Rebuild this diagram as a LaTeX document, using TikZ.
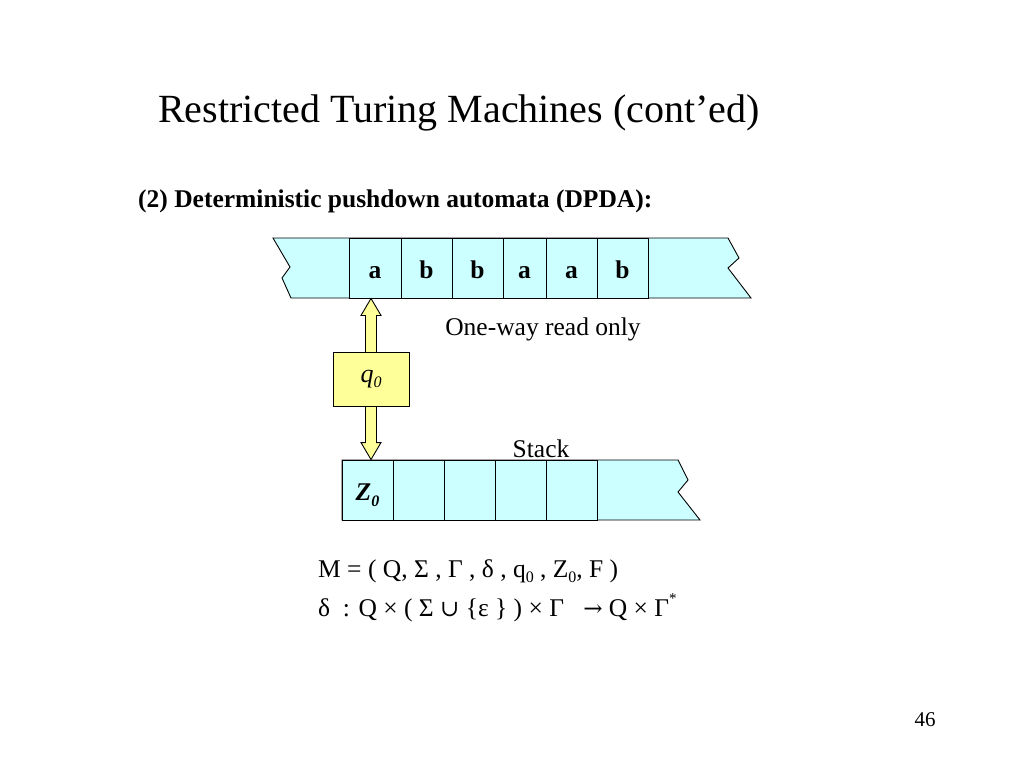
\documentclass[tikz,border=0pt]{standalone}
\usepackage{fontspec}
\setmainfont{Liberation Serif}
\newfontfamily\symfam{DejaVu Serif}
\usetikzlibrary{calc}
\definecolor{tapecol}{RGB}{204,255,255}
\definecolor{boxcol}{RGB}{255,255,153}
\newcommand{\lowsub}[1]{\raisebox{-0.22em}{\fontsize{16}{18}\selectfont #1}}
\tikzset{
  tapeshape/.style={draw=black, fill=tapecol, line width=0.9pt, line join=miter},
  cell/.style={draw=black, fill=tapecol, line width=0.9pt, minimum height=60, inner sep=0pt, text height=21pt, text depth=0pt, font=\fontsize{25.5}{28}\selectfont\bfseries},
  statebox/.style={draw=black, fill=boxcol, line width=0.9pt, minimum width=76, minimum height=54, inner sep=0pt, font=\fontsize{26}{28}\selectfont\itshape},
  arrowshape/.style={draw=black, fill=boxcol, line width=0.9pt, line join=miter},
  txt/.style={inner sep=0pt, font=\fontsize{25.5}{28}\selectfont},
}
\begin{document}
\begin{tikzpicture}[x=1pt, y=-1pt]
\useasboundingbox (0,0) rectangle (1024,768);
% title
\node[inner sep=0pt, font=\fontsize{40}{44}\selectfont] (title) at (459,113) {Restricted Turing Machines (cont’ed)};
\node[inner sep=0pt, anchor=west, font=\fontsize{25.5}{28}\selectfont\bfseries] (sub) at (138,201) {(2) Deterministic pushdown automata (DPDA):};
% input tape
\draw[tapeshape] (273,238) -- (728,238) -- (739,258) -- (728,268) -- (751,298) -- (291,298) -- (282,278) -- (290,267) -- cycle;
\node[cell, minimum width=52] (c1) at (375,268) {a};
\node[cell, minimum width=51] (c2) at (426.5,268) {b};
\node[cell, minimum width=51] (c3) at (477.5,268) {b};
\node[cell, minimum width=43] (c4) at (524.5,268) {a};
\node[cell, minimum width=51] (c5) at (571.5,268) {a};
\node[cell, minimum width=51] (c6) at (622.5,268) {b};
% stack
\draw[tapeshape] (342,460) -- (678,460) -- (688,480) -- (678,492) -- (700,520) -- (342,520) -- cycle;
\node[cell, minimum width=51] (z1) at (367.5,490) {\itshape Z\lowsub{0}};
\node[cell, minimum width=51] (z2) at (418.5,490) {};
\node[cell, minimum width=51] (z3) at (469.5,490) {};
\node[cell, minimum width=51] (z4) at (520.5,490) {};
\node[cell, minimum width=51] (z5) at (571.5,490) {};
% finite control
\coordinate (qc) at (371,379);
\coordinate (tt) at (qc |- c1.south);
\coordinate (tb) at (qc |- z1.north);
\draw[arrowshape] (tt) -- ++(10,17) -- ++(-4.5,0) -- ($(tb)+(5.5,-17)$) -- ++(4.5,0) -- (tb) -- ++(-10,-17) -- ++(4.5,0) -- ($(tt)+(-5.5,17)$) -- ++(-4.5,0) -- cycle;
\node[statebox] (q) at (qc) {q\lowsub{0}};
% labels
\node[txt] (oneway) at (543,329) {One-way read only};
\node[txt] (stack) at (541,449) {Stack};
\node[txt, anchor=base west] (m) at (318,577) {M = ( Q, Σ , Γ , δ , q\lowsub{0} , Z\lowsub{0}, F )};
\node[txt, anchor=base west] (d) at (318,616) {δ\ \ : Q × ( Σ {\symfam\fontsize{23}{26}\selectfont ∪} \{ε \} ) × Γ \ \ {\symfam\fontsize{23}{26}\selectfont →} Q × Γ\raisebox{0.5em}{\fontsize{15}{17}\selectfont *}};
\node[inner sep=0pt, font=\fontsize{21}{24}\selectfont] (pg) at (925,720) {46};
\end{tikzpicture}
\end{document}
